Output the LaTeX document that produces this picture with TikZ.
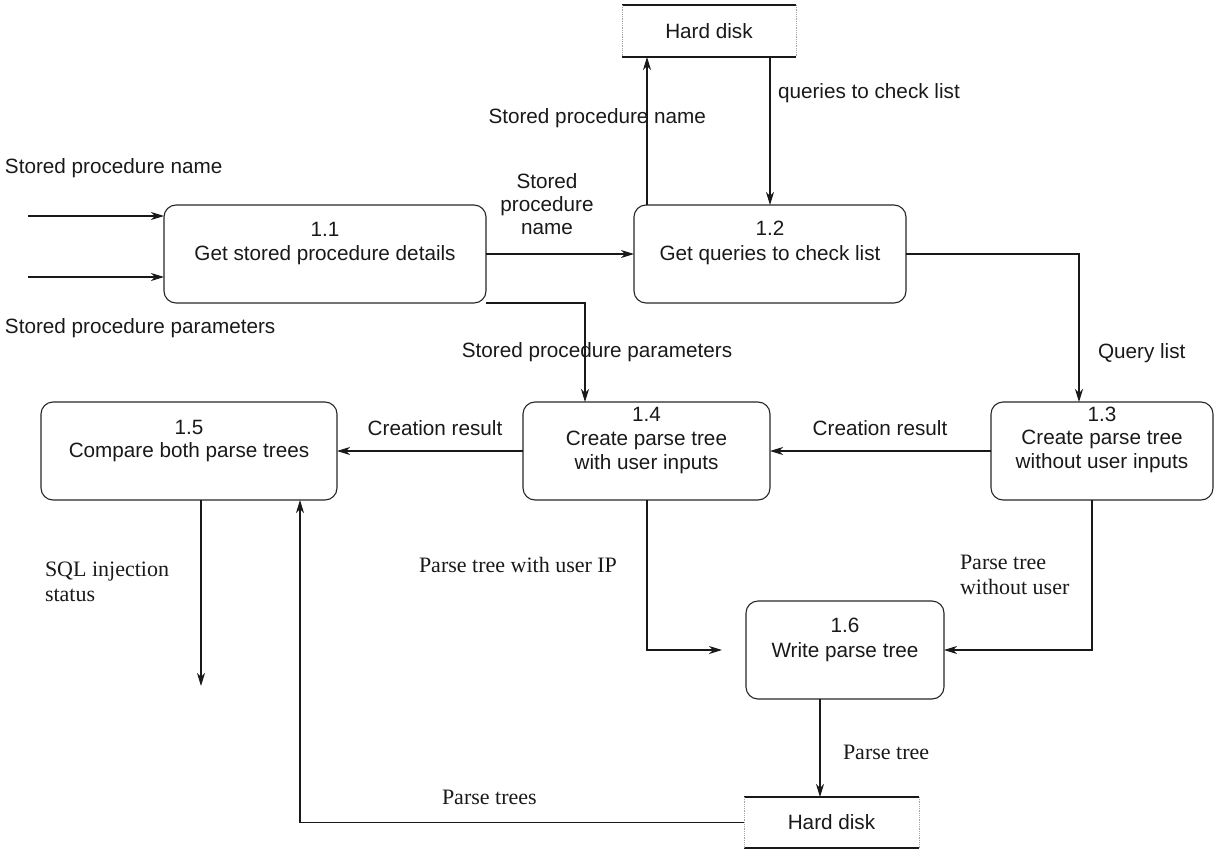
\documentclass[tikz,border=0pt]{standalone}
\usepackage{fontspec}
\setmainfont{Liberation Sans}
\newfontfamily\labelserif{Liberation Serif}
\usetikzlibrary{arrows.meta}
\begin{document}
\begin{tikzpicture}[x=1pt,y=-1pt,
  every node/.style={inner sep=0pt, outer sep=0pt},
  proc/.style={draw=black!85, line width=1.1pt, rounded corners=12pt},
  store/.style={draw=none},
  txt/.style={font=\fontsize{20.7}{24}\selectfont, text=black!90, align=center},
  stxt/.style={font=\labelserif\fontsize{22}{25}\selectfont, text=black!90, align=left},
  flow/.style={line width=1.1pt, draw=black!90,
    -{Stealth[length=13pt,width=8pt,inset=4pt]}},
  plain/.style={line width=1.1pt, draw=black!90}]
\useasboundingbox (0,0) rectangle (1215,851);

% process boxes
\node[proc, minimum width=322pt, minimum height=98pt] (b11) at (325,254) {};
\node[proc, minimum width=272pt, minimum height=98pt] (b12) at (770,254) {};
\node[proc, minimum width=222pt, minimum height=98pt] (b13) at (1102,451) {};
\node[proc, minimum width=247pt, minimum height=98pt] (b14) at (646.5,451) {};
\node[proc, minimum width=296pt, minimum height=98pt] (b15) at (189,451) {};
\node[proc, minimum width=198pt, minimum height=98pt] (b16) at (845,650) {};

% data stores
\node[store, minimum width=174pt, minimum height=52pt] (hd1) at (709,31) {};
\node[store, minimum width=175pt, minimum height=51pt] (hd2) at (831.5,822.5) {};
\foreach \s in {hd1,hd2}{
  \draw[line width=1.1pt, black!90] (\s.north west) -- (\s.north east);
  \draw[line width=1.1pt, black!90] (\s.south west) -- (\s.south east);
  \draw[densely dotted, black!35, line width=0.8pt] (\s.north west) -- (\s.south west);
  \draw[densely dotted, black!35, line width=0.8pt] (\s.north east) -- (\s.south east);
}
\node[txt] (hd1t) at (hd1) {Hard disk};
\node[txt] (hd2t) at (hd2) {Hard disk};

% box texts
\node[txt] (n11) at (325,229) {1.1};
\node[txt] (t11) at (325,255) {Get stored procedure details};
\node[txt] (n12) at (770,228) {1.2};
\node[txt] (t12) at (770,255) {Get queries to check list};
\node[txt] (n13) at (1102,414) {1.3};
\node[txt] (t13) at (1102,451) {Create parse tree\\without user inputs};
\node[txt] (n14) at (646.5,414) {1.4};
\node[txt] (t14) at (646.5,452) {Create parse tree\\with user inputs};
\node[txt] (n15) at (189,427) {1.5};
\node[txt] (t15) at (189,452) {Compare both parse trees};
\node[txt] (n16) at (845,625) {1.6};
\node[txt] (t16) at (845,652) {Write parse tree};

% free ends
\coordinate (in1) at (28,216);
\coordinate (in2) at (28,277);
\coordinate (sqlout) at (201,686);
\coordinate (p16) at (722,650);

% connectors
\draw[flow] (in1) -- (in1 -| b11.west);
\draw[flow] (in2) -- (in2 -| b11.west);
\draw[flow] (b11.east) -- (b12.west);
\draw[flow] (b11.south east) -| ([xshift=62pt]b14.north west);
\draw[flow] ([xshift=13pt]b12.north west) -- ([xshift=13pt]b12.north west |- hd1.south);
\draw[flow] ([xshift=148pt]hd1.south west) -- ([xshift=148pt]hd1.south west |- b12.north);
\draw[flow] (b12.east) -| ([xshift=88pt]b13.north west);
\draw[flow] (b13.west) -- (b14.east);
\draw[flow] (b14.west) -- (b15.east);
\draw[flow] (sqlout |- b15.south) -- (sqlout);
\draw[flow] (hd2.west) -| ([xshift=259pt]b15.south west);
\draw[flow] ([xshift=0.5pt]b14.south) |- (p16);
\draw[flow] ([xshift=101pt]b13.south west) |- (b16.east);
\draw[flow] ([xshift=74pt]b16.south west) -- ([xshift=74pt]b16.south west |- hd2.north);

% connector labels
\node[txt, anchor=west] (l1) at (5,168) {Stored procedure name};
\node[txt, anchor=west] (l2) at (5,328) {Stored procedure parameters};
\node[txt] (l3) at (547,204) {Stored\\[-1pt]procedure\\[-1pt]name};
\node[txt] (l4) at (597,352) {Stored procedure parameters};
\node[txt, anchor=east] (l5) at (706,118) {Stored procedure name};
\node[txt, anchor=west] (l6) at (778,93) {queries to check list};
\node[txt, anchor=west] (l7) at (1098,353) {Query list};
\node[txt] (l8) at (880,428) {Creation result};
\node[txt] (l9) at (435,428) {Creation result};
\node[stxt, anchor=west] (l10) at (45,582) {SQL injection\\status};
\node[stxt, anchor=west] (l11) at (419,565) {Parse tree with user IP};
\node[stxt, anchor=west] (l12) at (960,575) {Parse tree\\without user};
\node[stxt, anchor=west] (l13) at (843,752) {Parse tree};
\node[stxt, anchor=west] (l14) at (442,797) {Parse trees};
\end{tikzpicture}
\end{document}
